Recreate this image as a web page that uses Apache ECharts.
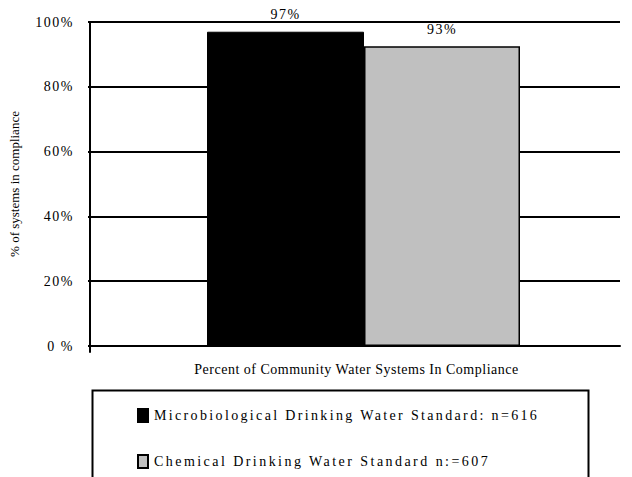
<!DOCTYPE html>
<html>
<head>
<meta charset="utf-8">
<script src="https://cdn.jsdelivr.net/npm/echarts@6/dist/echarts.min.js"></script>
<style>
html,body{margin:0;padding:0;background:#fff;}
#chart{width:632px;height:477px;}
</style>
</head>
<body>
<div id="chart"></div>
<script>
const categories = ['Percent of Community Water Systems In Compliance'];
const seriesNames = ['Microbiological Drinking Water Standard: n=616', 'Chemical Drinking Water Standard n:=607'];
const microValues = [97];
const chemValues = [92.5];
const yTicks = [0, 20, 40, 60, 80, 100];
const yAxisName = '% of systems in compliance';

const FONT = '"Liberation Serif", "Times New Roman", serif';
const chart = echarts.init(document.getElementById('chart'), null, {renderer: 'svg'});

const labelCfg = {
  show: true, position: 'top', distance: 10,
  fontFamily: FONT, fontSize: 14, color: '#000',
  formatter: p => Math.round(p.value) + '%'
};
const yMin = yTicks[0], yMax = yTicks[yTicks.length - 1];

chart.setOption({
  animation: false,
  backgroundColor: '#fff',
  grid: [
    {left: 90, right: 12, top: 22, bottom: 131},
    {left: 107, right: 12, top: 22, bottom: 131},
    {left: 90, right: 12, top: 22, bottom: 125}
  ],
  legend: {
    orient: 'vertical', left: 137, top: 408, padding: 0,
    itemWidth: 10, itemHeight: 13, itemGap: 31,
    icon: 'rect',
    textStyle: {fontFamily: FONT, fontSize: 14, color: '#000', padding: [0, 0, 0, 1]},
    data: seriesNames
  },
  graphic: [{
    type: 'rect', left: 90, top: 388,
    shape: {width: 496, height: 100},
    style: {fill: 'none', stroke: '#000', lineWidth: 2}
  }],
  xAxis: [{
    gridIndex: 0, type: 'category', data: categories,
    axisLine: {lineStyle: {color: '#000', width: 2}},
    axisTick: {show: false},
    axisLabel: {fontFamily: FONT, fontSize: 14, color: '#000', margin: 16}
  }, {
    gridIndex: 1, type: 'category', data: categories, show: false
  }, {
    gridIndex: 2, type: 'category', data: categories, show: false
  }],
  yAxis: [{
    gridIndex: 0, type: 'value', min: yMin, max: yMax, interval: 20,
    name: yAxisName, nameLocation: 'middle', nameGap: 72,
    nameTextStyle: {fontFamily: FONT, fontSize: 13, color: '#000'},
    axisLine: {show: false},
    axisTick: {show: true, length: 5, lineStyle: {color: '#000', width: 2}},
    splitLine: {show: true, lineStyle: {color: '#000', width: 2}},
    axisLabel: {
      fontFamily: FONT, fontSize: 14, color: '#000', margin: 19,
      formatter: v => v === 0 ? '0 %' : v + '%'
    }
  }, {
    gridIndex: 1, type: 'value', min: yMin, max: yMax, interval: 20, show: false,
    splitLine: {show: false}
  }, {
    gridIndex: 2, type: 'value', min: yMin, max: yMax, interval: 20,
    axisLine: {show: true, lineStyle: {color: '#000', width: 2}},
    axisTick: {show: false}, axisLabel: {show: false}, splitLine: {show: false}
  }],
  series: [
    {name: seriesNames[0], type: 'bar', xAxisIndex: 1, yAxisIndex: 1, data: microValues,
     barGap: 0, barWidth: 157,
     itemStyle: {color: '#000', borderColor: '#000', borderWidth: 1}, label: labelCfg},
    {name: seriesNames[1], type: 'bar', xAxisIndex: 1, yAxisIndex: 1, data: chemValues,
     barGap: 0, barWidth: 156,
     itemStyle: {color: '#c0c0c0', borderColor: '#000', borderWidth: 1.5}, label: labelCfg}
  ]
});

function spaceText() {
  const texts = document.querySelectorAll('#chart text');
  texts.forEach(t => {
    const s = t.textContent;
    if (s === seriesNames[0]) t.style.letterSpacing = '2.35px';
    else if (s === seriesNames[1]) t.style.letterSpacing = '2.45px';
    else if (/%$/.test(s)) t.style.letterSpacing = '1.5px';
    else if (s === categories[0]) t.style.letterSpacing = '0.5px';
  });
}
chart.on('finished', spaceText);
spaceText();
</script>
</body>
</html>
